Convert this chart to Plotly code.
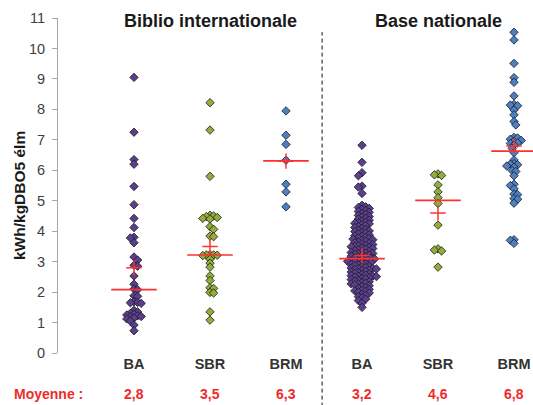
import numpy as np
import plotly.graph_objects as go

# ---------------- data ----------------
categories = ["BA", "SBR", "BRM", "BA", "SBR", "BRM"]
panel_titles = ["Biblio internationale", "Base nationale"]
y_title = "kWh/kgDBO5 élm"
mean_label = "Moyenne :"

ba_biblio = [9.05, 7.25, 6.35, 6.2, 5.47, 4.87, 4.42, 4.12, 3.8, 3.78, 3.62,
             3.15, 3.05, 2.88, 2.85, 2.53, 2.26, 2.1, 2.08, 1.88, 1.86, 1.68,
             1.66, 1.65, 1.63, 1.4, 1.35, 1.3, 1.27, 1.25, 1.22, 1.2, 1.18,
             1.15, 1.12, 1.05, 0.92, 0.73]
sbr_biblio = [8.22, 7.32, 5.8, 4.52, 4.5, 4.48, 4.45, 4.42, 4.4, 4.15, 4.06,
              3.84, 3.82, 3.23, 3.22, 3.22, 3.21, 3.2, 3.08, 2.95, 2.82, 2.53,
              2.38, 2.14, 2.12, 1.99, 1.97, 1.35, 1.08]
brm_biblio = [7.95, 7.15, 6.85, 6.33, 5.54, 5.29, 4.8]
ba_national = [6.82, 6.26, 5.92, 5.82, 5.48, 5.45, 5.24, 4.85,
               4.80, 4.78, 4.75, 4.72,
               4.68, 4.65, 4.62, 4.58, 4.55, 4.52,
               4.48, 4.46, 4.42, 4.40, 4.36, 4.33, 4.30, 4.28, 4.26,
               4.24, 4.21, 4.18, 4.15, 4.12, 4.09, 4.06, 4.03, 4.01,
               3.99, 3.96, 3.94, 3.91, 3.88, 3.85, 3.83, 3.80, 3.78, 3.76,
               3.74, 3.72, 3.70, 3.67, 3.65, 3.62, 3.60, 3.58, 3.56, 3.54, 3.52, 3.50,
               3.49, 3.47, 3.45, 3.43, 3.41, 3.38, 3.36, 3.34, 3.32, 3.30, 3.28, 3.27, 3.26,
               3.24, 3.22, 3.20, 3.18, 3.16, 3.14, 3.12, 3.11, 3.09, 3.07, 3.05, 3.03, 3.02, 3.01,
               2.99, 2.97, 2.95, 2.93, 2.91, 2.89, 2.87, 2.85, 2.83, 2.81, 2.79, 2.78, 2.77, 2.76,
               2.74, 2.72, 2.70, 2.68, 2.66, 2.64, 2.62, 2.60, 2.58, 2.56, 2.54, 2.53, 2.52, 2.51,
               2.49, 2.47, 2.45, 2.43, 2.41, 2.38, 2.36, 2.34, 2.31, 2.29, 2.27, 2.26,
               2.24, 2.21, 2.18, 2.15, 2.12, 2.09, 2.06, 2.04, 2.02, 2.00,
               1.97, 1.93, 1.89, 1.85, 1.81, 1.77,
               1.72, 1.64, 1.50]
sbr_national = [5.88, 5.85, 5.83, 5.52, 5.29, 5.10, 4.91, 4.2, 3.42, 3.38,
                3.35, 2.82]
brm_national = [10.53, 10.28, 9.51, 9.04, 8.89, 8.44, 8.16, 8.14, 8.12, 7.98,
                7.82, 7.60, 7.49, 7.08, 7.06, 7.02, 6.98, 6.95, 6.9, 6.88,
                6.83, 6.72, 6.58, 6.34, 6.22, 6.20, 6.18, 6.14, 6.10, 5.99,
                5.96, 5.82, 5.54, 5.50, 5.39, 5.22, 5.20, 5.07, 5.05, 4.92,
                3.72, 3.70, 3.60]

series = [ba_biblio, sbr_biblio, brm_biblio, ba_national, sbr_national, brm_national]
medians = [2.08, 3.22, 6.31, 3.10, 5.01, 6.63]
means = [2.8, 3.5, 6.3, 3.2, 4.6, 6.8]
y_ticks = list(range(0, 12))

# ---------------- style ----------------
FONT = "Liberation Sans, Arial, sans-serif"
fills = ["#5b3f8e", "#93ad3a", "#4d7fc3", "#5b3f8e", "#93ad3a", "#4d7fc3"]
RED = "#ff3030"
W, H = 533, 405
ML, MR, MT, MB = 58, 0, 18, 52
XR = [-1, 5.25]
YR = [0, 11]
PX_Y = (H - MT - MB) / (YR[1] - YR[0])
PX_X = (W - ML - MR) / (XR[1] - XR[0])


def swarm(vals, d=3.6, step=1.8):
    """simple beeswarm offsets (category units) computed from the values"""
    vals = np.asarray(vals, dtype=float)
    order = np.argsort(-vals, kind="stable")
    placed = []
    offs = np.zeros(len(vals))
    for n, i in enumerate(order):
        y = vals[i] * PX_Y
        k = 0
        chosen = None
        while chosen is None:
            if k == 0:
                cands = [0.0]
            else:
                cands = [k * step, -k * step] if n % 2 == 0 else [-k * step, k * step]
            for c in cands:
                if all((c - px) ** 2 + (y - py) ** 2 >= d * d for px, py in placed):
                    chosen = c
                    break
            k += 1
        placed.append((chosen, y))
        offs[i] = chosen / PX_X
    return offs


fig = go.Figure()
for i, vals in enumerate(series):
    offs = swarm(vals)
    fig.add_trace(go.Scatter(
        x=i + offs, y=vals, mode="markers",
        marker=dict(symbol="diamond", size=6.5, color=fills[i],
                    line=dict(color="#1a1a1a", width=0.8)),
        cliponaxis=False, showlegend=False, hoverinfo="y"))

for i in range(len(series)):
    fig.add_trace(go.Scatter(
        x=[i - 0.3, i + 0.3], y=[medians[i], medians[i]], mode="lines",
        line=dict(color=RED, width=1.6), showlegend=False, hoverinfo="skip"))
    fig.add_trace(go.Scatter(
        x=[i], y=[means[i]], mode="markers",
        marker=dict(symbol="cross-thin", size=11, line=dict(color=RED, width=1.5)),
        showlegend=False, hoverinfo="skip"))

# dashed separator between panels
fig.add_shape(type="line", xref="x", yref="paper", x0=2.475, x1=2.475,
              y0=-0.16, y1=0.958, line=dict(color="#111111", width=1, dash="4px,3px"))

annotations = []
for j, t in enumerate(panel_titles):
    annotations.append(dict(x=1 + 3 * j, y=0.99, xref="x", yref="paper", text=t,
                            showarrow=False, xanchor="center", yanchor="middle",
                            font=dict(family=FONT, size=18, color="#1a1a1a", weight="bold")))
annotations.append(dict(x=(12 - ML) / (W - ML - MR), y=(MB - 11) / (H - MT - MB) * -1,
                        xref="paper", yref="paper", text=mean_label, showarrow=False,
                        xanchor="left", yanchor="middle",
                        font=dict(family=FONT, size=14, color="#ee2b2b", weight="bold")))
for i, m in enumerate(means):
    annotations.append(dict(x=i, y=-(MB - 11) / (H - MT - MB), xref="x", yref="paper",
                            text=f"{m:.1f}".replace(".", ","), showarrow=False,
                            xanchor="center", yanchor="middle",
                            font=dict(family=FONT, size=14, color="#ee2b2b", weight="bold")))
annotations.append(dict(x=(20 - ML) / (W - ML - MR), y=(H - MB - 196) / (H - MT - MB),
                        xref="paper", yref="paper",
                        text=y_title, textangle=-90, showarrow=False,
                        xanchor="center", yanchor="middle",
                        font=dict(family=FONT, size=15.5, color="#1a1a1a", weight="bold")))

fig.update_layout(
    width=W, height=H, margin=dict(l=ML, r=MR, t=MT, b=MB),
    paper_bgcolor="white", plot_bgcolor="white",
    showlegend=False, annotations=annotations,
    xaxis=dict(range=XR, tickmode="array", tickvals=list(range(len(categories))),
               ticktext=categories, showgrid=False, zeroline=False, showline=False,
               ticks="", tickfont=dict(family=FONT, size=14.5, color="#333333", weight="bold")),
    yaxis=dict(range=YR, tickmode="array", tickvals=y_ticks, showgrid=False,
               zeroline=False, showline=True, linecolor="#a6a6a6", linewidth=1,
               ticks="outside", ticklen=5, tickcolor="#a6a6a6", ticklabelstandoff=4,
               tickfont=dict(family=FONT, size=14.5, color="#404040")),
)

fig.write_html("out.html")
